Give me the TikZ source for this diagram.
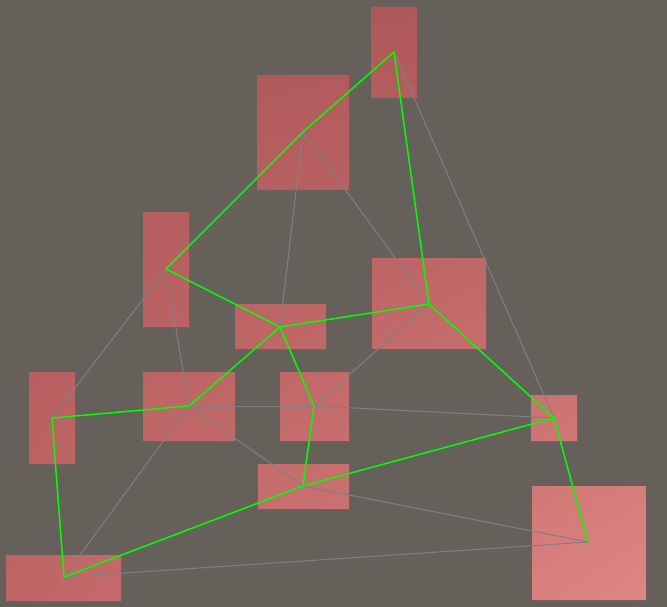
\documentclass[tikz,border=0pt]{standalone}
\usetikzlibrary{shadings}
\begin{document}
\definecolor{bgcol}{RGB}{102,96,91}
\definecolor{roomA}{RGB}{172,86,88}
\definecolor{roomB}{RGB}{176,88,90}
\definecolor{roomC}{RGB}{190,100,101}
\definecolor{roomD}{RGB}{224,136,132}
\definecolor{meshcol}{RGB}{128,128,130}
\definecolor{pathcol}{RGB}{0,255,0}
\begin{tikzpicture}[x=1pt,y=-1pt,
  mesh/.style={draw=meshcol,line width=1pt},
  corridor/.style={draw=pathcol,line width=1.5pt,line join=round}]
\fill[bgcol] (0,0) rectangle (667,607);
\useasboundingbox (0,0) rectangle (667,607);

% room rectangles, shaded with one gradient across the whole floor
\begin{scope}
\clip (371,7) rectangle (417,98)
      (257,75) rectangle (349,190)
      (143,212) rectangle (189,327)
      (235,304) rectangle (326,349)
      (372,258) rectangle (486,349)
      (29,372) rectangle (75,464)
      (143,372) rectangle (235,441)
      (280,372) rectangle (349,441)
      (258,464) rectangle (349,509)
      (6,555) rectangle (121,601)
      (531,395) rectangle (577,441)
      (532,486) rectangle (646,600);
\shade[upper left=roomA,upper right=roomB,lower left=roomC,lower right=roomD]
  (0,0) rectangle (667,607);
\end{scope}

% room centres
\coordinate (p1) at (394,52);
\coordinate (p2) at (303,132);
\coordinate (p3) at (166,269);
\coordinate (p4) at (280,327);
\coordinate (p5) at (429,304);
\coordinate (p6) at (52,418);
\coordinate (p7) at (189,406);
\coordinate (p8) at (314,406);
\coordinate (p9) at (303,486);
\coordinate (p10) at (64,577);
\coordinate (p11) at (554,418);
\coordinate (p12) at (588,542);

% triangulation edges
\draw[mesh] (p1) -- (p11);
\draw[mesh] (p2) -- (p4);
\draw[mesh] (p2) -- (p5);
\draw[mesh] (p3) -- (p6);
\draw[mesh] (p3) -- (p7);
\draw[mesh] (p5) -- (p8);
\draw[mesh] (p7) -- (p8);
\draw[mesh] (p8) -- (p11);
\draw[mesh] (p7) -- (p10);
\draw[mesh] (p7) -- (p9);
\draw[mesh] (p9) -- (p12);
\draw[mesh] (p10) -- (p12);

% corridor edges
\draw[corridor] (p1) -- (p2);
\draw[corridor] (p2) -- (p3);
\draw[corridor] (p1) -- (p5);
\draw[corridor] (p3) -- (p4);
\draw[corridor] (p4) -- (p5);
\draw[corridor] (p4) -- (p7);
\draw[corridor] (p4) -- (p8);
\draw[corridor] (p5) -- (p11);
\draw[corridor] (p7) -- (p6);
\draw[corridor] (p6) -- (p10);
\draw[corridor] (p8) -- (p9);
\draw[corridor] (p10) -- (p9);
\draw[corridor] (p9) -- (p11);
\draw[corridor] (p11) -- (p12);
\end{tikzpicture}
\end{document}
